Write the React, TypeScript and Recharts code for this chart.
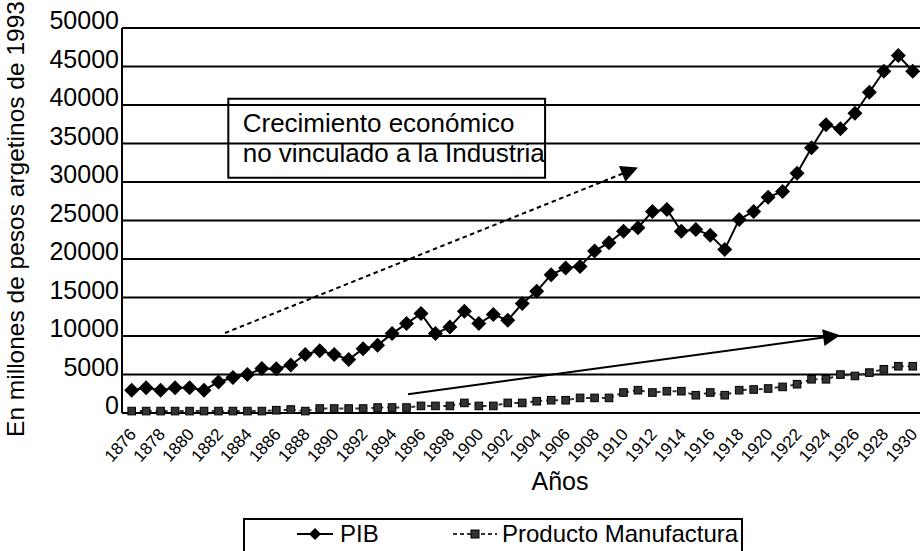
import React from 'react';
import {
  LineChart,
  Line,
  XAxis,
  YAxis,
  CartesianGrid,
  ReferenceLine,
  ReferenceArea,
  Legend,
} from 'recharts';

const FONT = '"Liberation Sans", Arial, Helvetica, sans-serif';

const years = [
  1876, 1877, 1878, 1879, 1880, 1881, 1882, 1883, 1884, 1885,
  1886, 1887, 1888, 1889, 1890, 1891, 1892, 1893, 1894, 1895,
  1896, 1897, 1898, 1899, 1900, 1901, 1902, 1903, 1904, 1905,
  1906, 1907, 1908, 1909, 1910, 1911, 1912, 1913, 1914, 1915,
  1916, 1917, 1918, 1919, 1920, 1921, 1922, 1923, 1924, 1925,
  1926, 1927, 1928, 1929, 1930,
];

const pib = [
  2960, 3280, 2960, 3280, 3280, 2960, 4030, 4610, 4990, 5770,
  5750, 6240, 7600, 8100, 7600, 6940, 8340, 8800, 10310, 11610,
  12910, 10310, 11170, 13210, 11610, 12780, 12040, 14210, 15800, 17970,
  18820, 19040, 21030, 22120, 23620, 24060, 26180, 26440, 23620, 23840,
  23070, 21250, 25140, 26180, 28030, 28770, 31150, 34440, 37430, 36910,
  38930, 41660, 44380, 46420, 44380,
];

const manufactura = [
  250, 250, 250, 250, 250, 250, 250, 250, 250, 250,
  360, 450, 250, 580, 580, 580, 580, 710, 710, 710,
  920, 920, 920, 1310, 920, 920, 1310, 1310, 1530, 1660,
  1660, 1960, 1960, 1960, 2660, 2960, 2660, 2830, 2830, 2310,
  2660, 2310, 2960, 3050, 3180, 3390, 3740, 4380, 4380, 4990,
  4810, 5250, 5680, 6070, 6070,
];

const xTicks = [
  1876, 1878, 1880, 1882, 1884, 1886, 1888, 1890, 1892, 1894,
  1896, 1898, 1900, 1902, 1904, 1906, 1908, 1910, 1912, 1914,
  1916, 1918, 1920, 1922, 1924, 1926, 1928, 1930,
];

const yTicks = [0, 5000, 10000, 15000, 20000, 25000, 30000, 35000, 40000, 45000, 50000];

const annotationLines = ['Crecimiento económico', 'no vinculado a la Industria'];
const annotationBox = { x1: 1882.68, x2: 1904.58, y1: 30550, y2: 40800 };
const dottedArrow = [{ x: 1882.45, y: 10390 }, { x: 1911.0, y: 31890 }];
const solidArrow = [{ x: 1895.1, y: 2440 }, { x: 1924.98, y: 10090 }];

const data = years.map((year, i) => ({ year, pib: pib[i], manufactura: manufactura[i] }));

const DiamondDot = (props: any) => {
  const { cx, cy } = props;
  if (cx == null || cy == null) return null;
  return (
    <polygon
      points={`${cx},${cy - 7.5} ${cx + 7.5},${cy} ${cx},${cy + 7.5} ${cx - 7.5},${cy}`}
      fill="#000"
    />
  );
};

const SquareDot = (props: any) => {
  const { cx, cy } = props;
  if (cx == null || cy == null) return null;
  return <rect x={cx - 3.8} y={cy - 3.8} width={7.6} height={7.6} fill="#333" stroke="#000" strokeWidth={1} />;
};

const makeArrow = (dashed: boolean) => (props: any) => {
  const { x1, y1, x2, y2 } = props;
  if ([x1, y1, x2, y2].some((v) => v == null || Number.isNaN(v))) return null;
  const dx = x2 - x1;
  const dy = y2 - y1;
  const len = Math.hypot(dx, dy) || 1;
  const ux = dx / len;
  const uy = dy / len;
  const headLen = 17;
  const headW = 8.5;
  const bx = x2 - ux * headLen;
  const by = y2 - uy * headLen;
  const px = -uy;
  const py = ux;
  return (
    <g>
      <line
        x1={x1}
        y1={y1}
        x2={bx + ux * 2}
        y2={by + uy * 2}
        stroke="#000"
        strokeWidth={2}
        strokeDasharray={dashed ? '4.5 3.5' : undefined}
      />
      <polygon
        points={`${x2},${y2} ${bx + px * headW},${by + py * headW} ${bx - px * headW},${by - py * headW}`}
        fill="#000"
      />
    </g>
  );
};

const XTick = (props: any) => {
  const { x, y, payload } = props;
  const ax = x + 5.5;
  const ay = y + 22;
  return (
    <text
      x={ax}
      y={ay}
      transform={`rotate(-48, ${ax}, ${ay})`}
      textAnchor="end"
      fontSize={17}
      fontFamily={FONT}
      fill="#000"
    >
      {payload.value}
    </text>
  );
};

const YTick = (props: any) => {
  const { x, y, payload } = props;
  return (
    <text x={x - 3} y={y + 1} textAnchor="end" fontSize={25} fontFamily={FONT} fill="#000">
      {payload.value}
    </text>
  );
};

const BoxLabel = (props: any) => {
  const vb = props.viewBox || {};
  const x = (vb.x ?? 0) + 14.4;
  const y = vb.y ?? 0;
  return (
    <g>
      {annotationLines.map((t, i) => (
        <text key={i} x={x} y={y + 33.4 + i * 30} fontSize={26} fontFamily={FONT} fill="#000">
          {t}
        </text>
      ))}
    </g>
  );
};

const YTitle = () => (
  <text
    x={15}
    y={219}
    transform="rotate(-90, 15, 219)"
    textAnchor="middle"
    dominantBaseline="central"
    fontSize={24.5}
    fontFamily={FONT}
    fill="#000"
  >
    En millones de pesos argetinos de 1993
  </text>
);

const XTitle = () => (
  <text x={560} y={490} textAnchor="middle" fontSize={25} fontFamily={FONT} fill="#000">
    Años
  </text>
);

const LegendContent = () => (
  <div
    style={{
      boxSizing: 'border-box',
      width: 500,
      height: 44,
      border: '2px solid #000',
      background: '#fff',
    }}
  >
    <svg width={496} height={40} style={{ display: 'block' }}>
      <line x1={52} y1={14} x2={88} y2={14} stroke="#000" strokeWidth={2} />
      <polygon points="70,8 76,14 70,20 64,14" fill="#000" />
      <text x={95} y={22} fontSize={24} fontFamily={FONT} fill="#000">
        PIB
      </text>
      <line x1={208} y1={14} x2={252} y2={14} stroke="#333" strokeWidth={2} strokeDasharray="4 3" />
      <rect x={226} y={10} width={8} height={8} fill="#333" stroke="#000" strokeWidth={1} />
      <text x={257} y={22} fontSize={24} fontFamily={FONT} fill="#000">
        Producto Manufactura
      </text>
    </svg>
  </div>
);

export default function App() {
  return (
    <div
      style={{
        position: 'absolute',
        left: 0,
        top: 0,
        width: 920,
        height: 551,
        overflow: 'hidden',
        background: '#fff',
        fontFamily: FONT,
      }}
    >
      <LineChart width={920} height={551} data={data} margin={{ top: 28, right: 0, left: 0, bottom: 0 }}>
        <CartesianGrid vertical={false} stroke="#000" strokeWidth={2} />
        <XAxis
          dataKey="year"
          type="number"
          domain={[1875.33, 1930.5]}
          ticks={xTicks}
          interval={0}
          allowDataOverflow
          height={138}
          tickLine={false}
          tickSize={0}
          tickMargin={0}
          axisLine={{ stroke: '#000', strokeWidth: 2 }}
          tick={<XTick />}
          label={XTitle}
        />
        <YAxis
          type="number"
          domain={[0, 50000]}
          ticks={yTicks}
          interval={0}
          width={122}
          tickLine={false}
          tickSize={0}
          tickMargin={0}
          axisLine={{ stroke: '#000', strokeWidth: 2 }}
          tick={<YTick />}
          label={YTitle}
        />
        <ReferenceArea
          x1={annotationBox.x1}
          x2={annotationBox.x2}
          y1={annotationBox.y1}
          y2={annotationBox.y2}
          fill="none"
          fillOpacity={0}
          stroke="#000"
          strokeWidth={2}
          label={BoxLabel}
        />
        <ReferenceLine segment={dottedArrow} shape={makeArrow(true)} />
        <ReferenceLine segment={solidArrow} shape={makeArrow(false)} />
        <Line
          dataKey="manufactura"
          name="Producto Manufactura"
          stroke="#333"
          strokeWidth={2}
          strokeDasharray="4 4"
          dot={<SquareDot />}
          activeDot={false}
          isAnimationActive={false}
        />
        <Line
          dataKey="pib"
          name="PIB"
          stroke="#000"
          strokeWidth={2}
          dot={<DiamondDot />}
          activeDot={false}
          isAnimationActive={false}
        />
        <Legend
          layout="horizontal"
          verticalAlign="middle"
          align="center"
          wrapperStyle={{ left: 243, top: 518, width: 500, height: 44 }}
          content={LegendContent}
        />
      </LineChart>
    </div>
  );
}
